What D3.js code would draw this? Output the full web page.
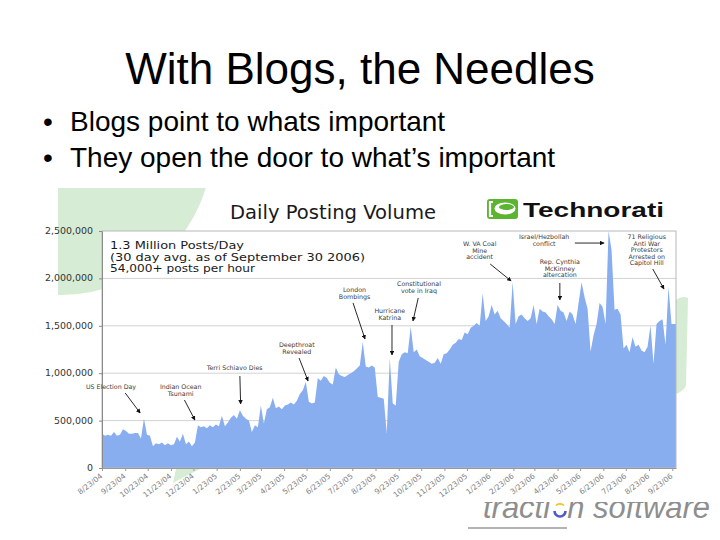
<!DOCTYPE html>
<html><head><meta charset="utf-8">
<script src="https://cdn.jsdelivr.net/npm/d3@7"></script>
<style>
html,body{margin:0;padding:0;background:#fff;}
svg{display:block;}
</style></head>
<body>
<svg id="c" width="720" height="540"></svg>
<script>
// ---------- data ----------
const slideTitle = "With Blogs, the Needles";
const bullets = ["Blogs point to whats important", "They open the door to what’s important"];
const chartTitle = "Daily Posting Volume";
const brandName = "Technorati";
const footerBrand = ["tracti", "o", "n software"];
const summaryLines = ["1.3 Million Posts/Day", "(30 day avg. as of September 30 2006)", "54,000+ posts per hour"];
const yTickValues = [0, 500000, 1000000, 1500000, 2000000, 2500000];
const xTickLabels = ["8/23/04","9/23/04","10/23/04","11/23/04","12/23/04","1/23/05","2/23/05","3/23/05","4/23/05","5/23/05","6/23/05","7/23/05","8/23/05","9/23/05","10/23/05","11/23/05","12/23/05","1/23/06","2/23/06","3/23/06","4/23/06","5/23/06","6/23/06","7/23/06","8/23/06","9/23/06"];
const seriesStart = "2004-08-23";
const seriesEnd = "2006-09-28";
const sampleEveryDays = 4;
// posts per day, thousands, one reading every 4 days
const postsPerDayK = [
 360,340,350,340,380,340,350,410,390,360,
 360,370,370,310,520,350,340,230,260,250,
 270,240,260,240,250,330,280,360,250,280,
 230,270,450,430,440,420,450,430,460,440,
 550,440,480,530,560,520,610,550,520,500,
 380,450,430,660,470,620,640,740,630,650,
 620,660,670,690,670,710,780,820,910,700,
 680,690,950,920,970,950,900,880,1060,990,
 970,960,980,1000,1020,1050,1080,1330,1070,1060,
 1080,1060,750,740,730,370,1160,680,660,1120,
 1200,1220,1210,1490,1220,1250,1180,1160,1140,1120,
 1100,1110,1160,1100,1200,1210,1250,1300,1320,1360,
 1350,1430,1410,1480,1500,1530,1500,1840,1550,1600,
 1720,1620,1660,1580,1550,1520,1480,1960,1520,1600,
 1620,1580,1550,1580,1720,1520,1680,1650,1640,1600,
 1570,1520,1720,1660,1640,1550,1650,1620,1520,1740,
 1960,1800,1680,1230,1400,1520,1740,1700,1520,2500,
 2300,1670,1680,1620,1260,1300,1220,1380,1280,1300,
 1240,1220,1280,1500,1100,1520,1550,1570,1300,1910,
 1520
];
// events: text anchor, arrow start, arrow end — [date, thousands of posts]
const eventLabels = [
 {lines:["US Election Day"], text:["2004-09-04",833], from:["2004-09-23",791], to:["2004-10-13",580]},
 {lines:["Indian Ocean","Tsunami"], text:["2004-12-06",833], from:["2004-12-11",717], to:["2004-12-25",506]},
 {lines:["Terri Schiavo Dies"], text:["2005-02-16",1034], from:["2005-02-23",970], to:["2005-02-24",675]},
 {lines:["Deepthroat","Revealed"], text:["2005-05-10",1276], from:["2005-05-13",1160], to:["2005-05-25",918]},
 {lines:["London","Bombings"], text:["2005-07-26",1857], from:["2005-07-24",1741], to:["2005-08-09",1361]},
 {lines:["Hurricane","Katrina"], text:["2005-09-11",1635], from:["2005-09-14",1508], to:["2005-09-14",1192]},
 {lines:["Constitutional","vote in Iraq"], text:["2005-10-20",1920], from:["2005-10-19",1793], to:["2005-10-12",1551]},
 {lines:["W. VA Coal","Mine","accident"], text:["2006-01-09",2342], from:["2006-01-23",2152], to:["2006-02-20",1973]},
 {lines:["Israel/Hezbollah","conflict"], text:["2006-04-05",2416], from:["2006-05-16",2373], to:["2006-06-24",2373]},
 {lines:["Rep. Cynthia","McKinney","altercation"], text:["2006-04-26",2152], from:["2006-04-26",1952], to:["2006-04-26",1772]},
 {lines:["71 Religious","Anti War","Protestors","Arrested on","Capitol Hill"], text:["2006-08-20",2416], from:["2006-08-28",2099], to:["2006-09-12",1888]}
];

// ---------- drawing ----------
const svg = d3.select("#c");
const W = 720, H = 540;
const plot = {left:102, right:676, top:231, bottom:468};
const parseISO = d3.timeParse("%Y-%m-%d");
const parseTick = d3.timeParse("%m/%d/%y");
const start = parseISO(seriesStart), end = parseISO(seriesEnd);

const x = d3.scaleTime().domain([start, end]).range([plot.left, plot.right]);
const y = d3.scaleLinear().domain([0, 2500000]).range([plot.bottom, plot.top]);

const series = postsPerDayK.map((v,i)=>({date:d3.timeDay.offset(start, i*sampleEveryDays), value:v*1000}));
series.push({date:end, value:series[series.length-1].value});

const defs = svg.append("defs");
svg.append("rect").attr("width",W).attr("height",H).attr("fill","#fff");

// pale green background decorations
const green = "#d6ecd4";
defs.append("clipPath").attr("id","gclip").append("rect").attr("x",58).attr("y",188).attr("width",200).attr("height",150);
svg.append("circle").attr("cx",62).attr("cy",145).attr("r",150).attr("fill",green).attr("clip-path","url(#gclip)");
svg.append("path").attr("d","M676,300 Q682,295 688,298 L686,386 Q682,392 676,394 Z").attr("fill",green);
svg.append("path").attr("d","M176,469 L200,469 L186,476 L173,483 Z").attr("fill",green);

// slide title and bullets
const sans = "'Liberation Sans', Arial, Helvetica, sans-serif";
svg.append("text").attr("x",360).attr("y",84).attr("text-anchor","middle")
  .style("font-family",sans).style("font-size","44px").attr("fill","#000").text(slideTitle);
bullets.forEach((b,i)=>{
  const by = 131 + i*36;
  svg.append("text").attr("x",43).attr("y",by).style("font-family",sans).style("font-size","28px").text("•");
  svg.append("text").attr("x",70).attr("y",by).style("font-family",sans).style("font-size","28px").text(b);
});

// chart header
const chartFont = "'DejaVu Sans', Verdana, sans-serif";
svg.append("text").attr("x",230).attr("y",219).style("font-family",chartFont).style("font-size","19.5px")
  .attr("fill","#1a1a1a").attr("textLength",206).attr("lengthAdjust","spacingAndGlyphs").text(chartTitle);
// Technorati logo
const lg = svg.append("g");
lg.append("rect").attr("x",487).attr("y",199).attr("width",31).attr("height",20).attr("rx",3).attr("fill","#5cb531");
lg.append("path").attr("d","M493,202 L490,202 L490,216 L493,216").attr("fill","none").attr("stroke","#fff").attr("stroke-width",2.2);
lg.append("ellipse").attr("cx",505).attr("cy",208.5).attr("rx",10.5).attr("ry",6).attr("fill","#fff");
lg.append("ellipse").attr("cx",506.5).attr("cy",207).attr("rx",7.5).attr("ry",3).attr("fill","#5cb531");
lg.append("text").attr("x",523).attr("y",217).style("font-family",sans).style("font-weight","bold").style("font-size","21px")
  .attr("fill","#111").attr("textLength",141).attr("lengthAdjust","spacingAndGlyphs").text(brandName);

// plot background, grid
svg.append("rect").attr("x",plot.left).attr("y",plot.top).attr("width",plot.right-plot.left).attr("height",plot.bottom-plot.top).attr("fill","#fff");
svg.append("g").selectAll("line").data(yTickValues.slice(1,-1)).join("line")
  .attr("x1",plot.left).attr("x2",plot.right).attr("y1",d=>y(d)).attr("y2",d=>y(d))
  .attr("stroke","#d2d2d2").attr("stroke-width",1);

defs.append("clipPath").attr("id","pclip").append("rect").attr("x",plot.left).attr("y",plot.top).attr("width",plot.right-plot.left).attr("height",plot.bottom-plot.top);
const area = d3.area().x(d=>x(d.date)).y0(y(0)).y1(d=>y(d.value)).curve(d3.curveLinear);
svg.append("path").datum(series).attr("d",area).attr("fill","#88aef0").attr("clip-path","url(#pclip)");

svg.append("rect").attr("x",plot.left).attr("y",plot.top).attr("width",plot.right-plot.left).attr("height",plot.bottom-plot.top)
  .attr("fill","none").attr("stroke","#b8b8b8").attr("stroke-width",1);

// y axis
const yAxis = svg.append("g").attr("transform",`translate(${plot.left},0)`)
  .call(d3.axisLeft(y).tickValues(yTickValues).tickSize(3).tickSizeOuter(0).tickPadding(6).tickFormat(d3.format(",")));
yAxis.select(".domain").attr("stroke","#8a8a8a");
yAxis.selectAll(".tick line").attr("stroke","#8a8a8a");
yAxis.selectAll("text").style("font-family",chartFont).style("font-size","8px").attr("fill","#333")
  .each(function(){ const w=this.getComputedTextLength(); d3.select(this).attr("textLength",w*1.18).attr("lengthAdjust","spacingAndGlyphs"); });

// x axis
const tickDates = xTickLabels.map(s=>parseTick(s));
const xAxis = svg.append("g").attr("transform",`translate(0,${plot.bottom})`)
  .call(d3.axisBottom(x).tickValues(tickDates).tickSize(3).tickSizeOuter(0).tickFormat((d,i)=>xTickLabels[i]));
xAxis.select(".domain").attr("stroke","#9a9a9a");
xAxis.selectAll(".tick line").attr("stroke","#9a9a9a");
xAxis.selectAll("text").style("font-family",chartFont).style("font-size","7.5px").attr("fill","#808080")
  .attr("text-anchor","end").attr("x",0).attr("y",0).attr("dy","0.35em")
  .attr("transform","translate(-1,7) rotate(-38)");

// summary text in plot
const sumW = [134, 255, 145];
const sumY = [249, 260.5, 272];
summaryLines.forEach((s,i)=>{
  svg.append("text").attr("x",110).attr("y",sumY[i]).style("font-family",chartFont).style("font-size","10px")
    .attr("fill","#1a1a1a").attr("textLength",sumW[i]).attr("lengthAdjust","spacingAndGlyphs").text(s);
});

// event annotations
defs.append("marker").attr("id","ah").attr("viewBox","0 0 10 10").attr("refX",9).attr("refY",5)
  .attr("markerWidth",5).attr("markerHeight",5).attr("orient","auto")
  .append("path").attr("d","M0,0 L10,5 L0,10 z").attr("fill","#111");
const P = p => [x(parseISO(p[0])), y(p[1]*1000)];
const ann = svg.append("g");
eventLabels.forEach(ev=>{
  const [tx,ty] = P(ev.text);
  const t = ann.append("text").attr("text-anchor","middle").style("font-family",chartFont).style("font-size","6.3px").attr("fill","#3a3a3a");
  ev.lines.forEach((ln,j)=>t.append("tspan").attr("x",tx).attr("y",ty + j*6.6).text(ln));
  const [x1,y1] = P(ev.from), [x2,y2] = P(ev.to);
  ann.append("line").attr("x1",x1).attr("y1",y1).attr("x2",x2).attr("y2",y2)
    .attr("stroke","#111").attr("stroke-width",0.9).attr("marker-end","url(#ah)");
});

// footer brand
defs.append("clipPath").attr("id","tclip").append("rect").attr("x",440).attr("y",502).attr("width",280).attr("height",38);
const ft = svg.append("text").attr("x",483).attr("y",518).attr("clip-path","url(#tclip)")
  .style("font-family",sans).style("font-style","italic").style("font-size","31px").attr("fill","#8e8e8e")
  .attr("textLength",227).attr("lengthAdjust","spacingAndGlyphs");
ft.append("tspan").text(footerBrand[0]);
ft.append("tspan").attr("fill-opacity",0).text(footerBrand[1]);
ft.append("tspan").text(footerBrand[2]);
svg.append("path").attr("d","M554.5,511 A5.5,5.5 0 0 0 565.5,511").attr("fill","none").attr("stroke","#4a5cc8").attr("stroke-width",2.6);
svg.append("path").attr("d","M556,505.5 A5,4 0 0 1 564,505.5").attr("fill","none").attr("stroke","#f2c21b").attr("stroke-width",1.8).attr("clip-path","url(#tclip)");
svg.append("line").attr("x1",468).attr("x2",567).attr("y1",528).attr("y2",528).attr("stroke","#9a9a9a").attr("stroke-width",1.5);
</script>
</body></html>
